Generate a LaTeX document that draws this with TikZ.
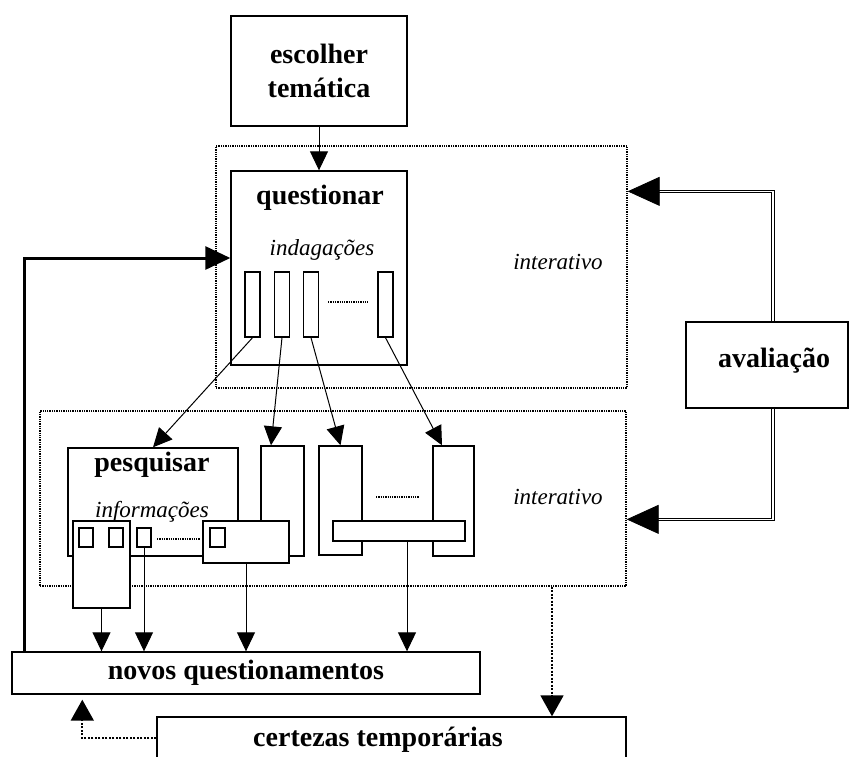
\documentclass[tikz,border=0pt]{standalone}
\usepackage{fontspec}
\setmainfont{Liberation Serif}
\usetikzlibrary{arrows.meta}
\newcommand\bfx{\fontsize{28}{34}\selectfont\bfseries}
\newcommand\itx{\fontsize{23}{28}\selectfont\itshape}
\begin{document}
\begin{tikzpicture}[x=1pt,y=-1pt,
  box/.style={draw, line width=1.4pt, fill=white, inner sep=0pt},
  dotbox/.style={draw, dash pattern=on 1.3pt off 1pt, line width=1.3pt, inner sep=0pt},
  title/.style={font=\bfx, inner sep=0pt},
  lab/.style={font=\itx, inner sep=0pt},
  arr/.style={line width=1pt, -{Triangle[length=19pt,width=18pt]}},
  thickarr/.style={line width=3pt, -{Triangle[length=25pt,width=23pt]}},
  dotarr/.style={dash pattern=on 2pt off 1.5pt, line width=1.8pt, -{Triangle[length=21pt,width=23pt]}},
  dblarr/.style={double, double distance=1.6pt, line width=0.8pt, -{Triangle[length=32pt,width=29pt]}},
  gap/.style={dash pattern=on 1.3pt off 1pt, line width=1.2pt}]
\clip (0,0) rectangle (850,756);
\fill[white] (0,0) rectangle (850,756);

% interactive zones
\node[dotbox, minimum width=411pt, minimum height=242pt] (dot1) at (421.5,267) {};
\node[dotbox, minimum width=586pt, minimum height=175pt] (dot2) at (333,498.5) {};
\node[lab] at (558,262) {interativo};
\node[lab] at (558,497) {interativo};

% choosing the theme
\node[box, title, align=center, minimum width=176pt, minimum height=110pt] (esc) at (319,71) {escolher\\temática};

% questioning block
\node[box, minimum width=176pt, minimum height=194pt] (que) at (319,268) {};
\node[title] at (320,198) {questionar};
\node[lab] at (322,250) {indagações};
\node[box, minimum width=15pt, minimum height=65pt] (i1) at (252.5,304.5) {};
\node[box, minimum width=15pt, minimum height=65pt] (i2) at (282,304.5) {};
\node[box, minimum width=15pt, minimum height=65pt] (i3) at (311,304.5) {};
\node[box, minimum width=15pt, minimum height=65pt] (i4) at (385.5,304.5) {};
\draw[gap] (328,302) -- (368,302);

% research block
\node[box, minimum width=170pt, minimum height=108pt] (pes) at (153,502) {};
\node[title] at (152,465) {pesquisar};
\node[lab] at (152,512) {informações};
\node[box, minimum width=43pt, minimum height=110pt] (colA) at (282.5,501) {};
\node[box, minimum width=43pt, minimum height=109pt] (colB) at (340.5,500.5) {};
\node[box, minimum width=41pt, minimum height=110pt] (colD) at (453.5,501) {};
\draw[gap] (376,497) -- (419,497);

\node[box, minimum width=57pt, minimum height=87pt] (tall) at (101.5,564.5) {};
\node[box, minimum width=86pt, minimum height=42pt] (boxC) at (246,542) {};
\node[box, minimum width=132pt, minimum height=20pt] (bar) at (399,531) {};
\node[box, minimum width=14pt, minimum height=19pt] (sq1) at (86,537.5) {};
\node[box, minimum width=14pt, minimum height=19pt] (sq2) at (116,537.5) {};
\node[box, minimum width=14pt, minimum height=19pt] (sq3) at (144,537.5) {};
\node[box, minimum width=15pt, minimum height=19pt] (sq4) at (217.5,537.5) {};
\draw[gap] (157,539) -- (200,539);

% outcomes
\node[box, title, minimum width=468pt, minimum height=42pt] (nov) at (246,673) {novos questionamentos};
\node[box, minimum width=469pt, minimum height=48pt] (cer) at (391.5,741) {};
\node[title] at (378,740) {certezas temporárias};

% evaluation
\node[box, minimum width=162pt, minimum height=86pt] (aval) at (767,365) {};
\node[title] at (774,361) {avaliação};

% connectors
\draw[arr] (esc.south) -- (que.north);
\draw[thickarr] ([xshift=13pt]nov.north west) |- ([yshift=10pt]que.west);
\draw[arr] (i1.south) -- (pes.north);
\draw[arr] (i2.south) -- ([xshift=-11.5pt]colA.north);
\draw[arr] (i3.south) -- (colB.north);
\draw[arr] (i4.south) -- ([xshift=-11.5pt]colD.north);
\draw[arr] (tall.south) -- (tall.south |- nov.north);
\draw[arr] (sq3.south) -- (sq3.south |- nov.north);
\draw[arr] (boxC.south) -- (boxC.south |- nov.north);
\draw[arr] ([xshift=8pt]bar.south) -- ([xshift=8pt]bar.south |- nov.north);
\draw[dotarr] ([xshift=219pt]dot2.south) -- ([xshift=219pt]dot2.south |- cer.north);
\draw[dotarr, shorten >=5pt] ([yshift=3pt]cer.west) -| ([xshift=71pt]nov.south west);
\draw[dblarr] ([xshift=6pt]aval.north) |- ([yshift=-46pt]dot1.north east);
\draw[dblarr] ([xshift=6pt]aval.south) |- ([yshift=-109pt]dot2.north east);
\end{tikzpicture}
\end{document}
